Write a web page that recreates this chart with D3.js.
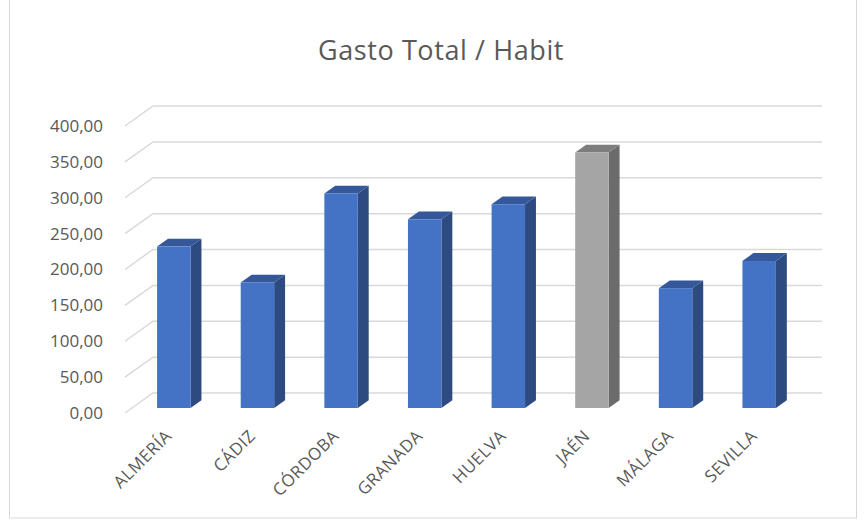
<!DOCTYPE html>
<html>
<head>
<meta charset="utf-8">
<script src="https://cdn.jsdelivr.net/npm/d3@7"></script>
<style>
  html, body { margin: 0; padding: 0; background: #fff; }
  svg { display: block; font-family: "Open Sans", "Liberation Sans", sans-serif; }
</style>
</head>
<body>
<div id="chart"></div>
<script>
// Gasto Total / Habit — 3D-style column chart (Excel look), drawn with D3.
var provincias = ["ALMERÍA", "CÁDIZ", "CÓRDOBA", "GRANADA", "HUELVA", "JAÉN", "MÁLAGA", "SEVILLA"];
var gasto = [225, 175, 299, 263, 284, 356, 167, 205];
var destacada = ["JAÉN"];
var yTicks = [0, 50, 100, 150, 200, 250, 300, 350, 400];
var titulo = "Gasto Total / Habit";

(function () {
  "use strict";

  var width = 865, height = 523;
  var depthX = 28, depthY = -20;          // oblique offset of the full floor depth
  var zFront = 0.25, zBack = 0.64;        // bar depth inside the floor

  var svg = d3.select("#chart").append("svg")
    .attr("width", width)
    .attr("height", height);

  svg.append("rect")
    .attr("x", 9.5).attr("y", -1)
    .attr("width", 847).attr("height", 519)
    .attr("fill", "#fff")
    .attr("stroke", "#d9d9d9");

  svg.append("text")
    .attr("x", 441).attr("y", 60)
    .attr("text-anchor", "middle")
    .attr("font-size", 27)
    .attr("letter-spacing", 0.6)
    .attr("fill", "#595959")
    .text(titulo);

  // front-plane scales
  var x = d3.scaleBand().domain(provincias).range([125, 794]).paddingInner(0.6).paddingOuter(0.3);
  var y = d3.scaleLinear().domain([0, 400]).range([413, 126]);

  function fmt(v) { return d3.format(".2f")(v).replace(".", ","); }

  // gridlines: diagonal on the side wall + line on the back wall
  var grid = svg.append("g")
    .attr("fill", "none")
    .attr("stroke", "#d9d9d9")
    .attr("stroke-width", 1.5);

  yTicks.forEach(function (t) {
    var yf = y(t);
    grid.append("path")
      .attr("d", "M" + 125 + "," + yf + "L" + (125 + depthX) + "," + (yf + depthY) +
        "L" + (794 + depthX) + "," + (yf + depthY));
  });

  svg.append("g").selectAll("text")
    .data(yTicks)
    .join("text")
    .attr("x", 103)
    .attr("y", function (d) { return y(d); })
    .attr("dy", "0.35em")
    .attr("text-anchor", "end")
    .attr("font-size", 17)
    .attr("fill", "#595959")
    .text(fmt);

  var colors = {
    blue: { front: "#4472c4", side: "#2d4b80", top: "#34589a" },
    gray: { front: "#a5a5a5", side: "#6b6b6b", top: "#7d7d7d" }
  };

  var data = provincias.map(function (p, i) { return { name: p, value: gasto[i] }; });

  var bars = svg.append("g").selectAll("g")
    .data(data)
    .join("g");

  function pts(arr) { return arr.map(function (p) { return p.join(","); }).join(" "); }

  bars.each(function (d) {
    var g = d3.select(this);
    var c = destacada.indexOf(d.name) >= 0 ? colors.gray : colors.blue;
    var x0 = x(d.name) + depthX * zFront;
    var x1 = x0 + x.bandwidth();
    var yb = y(0) + depthY * zFront;
    var yt = y(d.value) + depthY * zFront;
    var dx = depthX * (zBack - zFront), dy = depthY * (zBack - zFront);

    g.append("polygon")
      .attr("points", pts([[x1, yt], [x1 + dx, yt + dy], [x1 + dx, yb + dy], [x1, yb]]))
      .attr("fill", c.side);
    g.append("polygon")
      .attr("points", pts([[x0, yt], [x0 + dx, yt + dy], [x1 + dx, yt + dy], [x1, yt]]))
      .attr("fill", c.top);
    g.append("rect")
      .attr("x", x0).attr("y", yt)
      .attr("width", x1 - x0).attr("height", yb - yt)
      .attr("fill", c.front);
  });

  svg.append("g").selectAll("text")
    .data(provincias)
    .join("text")
    .attr("transform", function (d) {
      return "translate(" + (x(d) + x.bandwidth() / 2 + 6) + ",437) rotate(-45)";
    })
    .attr("text-anchor", "end")
    .attr("font-size", 17)
    .attr("letter-spacing", 0.5)
    .attr("fill", "#595959")
    .text(function (d) { return d; });
})();
</script>
</body>
</html>
